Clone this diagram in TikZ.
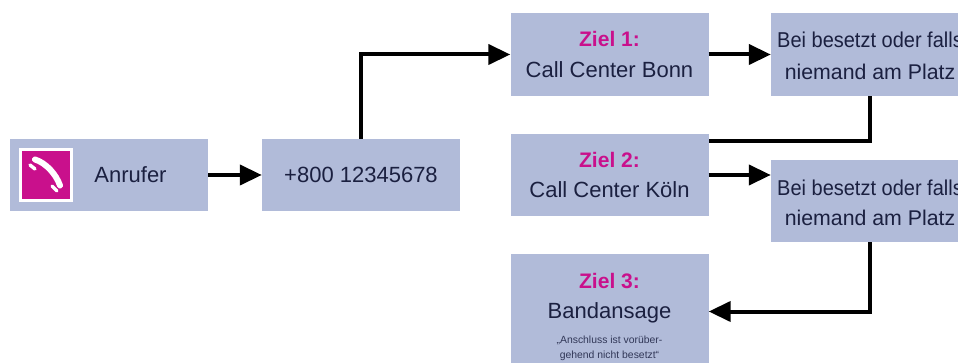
\documentclass[tikz,border=0pt]{standalone}
\usepackage{fontspec}
\setmainfont{Liberation Sans}
\newfontfamily\narrowfont[FakeStretch=0.93]{Liberation Sans}
\usetikzlibrary{arrows.meta,positioning}
\definecolor{boxblue}{HTML}{B1BBD9}
\definecolor{tmag}{HTML}{C9108C}
\definecolor{inkblue}{HTML}{1B2040}
\tikzset{
  flowbox/.style={fill=boxblue,inner sep=0pt,minimum width=198pt,align=center,text=inkblue,font=\fontsize{22}{31}\selectfont},
  flowtext/.style={text=inkblue,align=center,inner sep=0pt},
  conn/.style={draw=black,line width=4pt,-{Triangle[length=22pt,width=20pt]}},
  plainconn/.style={draw=black,line width=4pt},
  iconline/.style={white,line cap=round}
}
\newcommand{\zielhead}[1]{{\fontsize{21}{31}\selectfont\color{tmag}\bfseries #1}}
\newcommand{\beiline}{{\narrowfont\fontsize{21.5}{31}\selectfont Bei besetzt oder falls}}
\newcommand{\nieline}{{\fontsize{21.3}{31}\selectfont niemand am Platz}}
\begin{document}
\begin{tikzpicture}[x=1pt,y=-1pt]
\useasboundingbox (0,0) rectangle (958,363);
\clip (0,0) rectangle (958,363);
\fill[white] (0,0) rectangle (958,363);
\node[flowbox,minimum height=72pt] (caller) at (109,175) {};
\node[flowtext,font=\fontsize{22}{25}\selectfont] (callertext) at (130.5,175) {Anrufer};
\node[flowbox,minimum height=72pt] (number) at (361,175) {+800 12345678};
\node[flowbox,minimum height=83pt] (ziel1) at (609.5,54.5) {\zielhead{Ziel 1:}\\Call Center Bonn};
\node[flowbox,minimum height=83pt] (bei1) at (870,54.5) {};
\node[flowtext,font=\fontsize{21}{32}\selectfont] (bei1text) at (870,56) {\beiline\\\nieline};
\node[flowbox,minimum height=82pt] (ziel2) at (609.5,175) {\zielhead{Ziel 2:}\\Call Center Köln};
\node[flowbox,minimum height=82pt] (bei2) at (870,201) {};
\node[flowtext,font=\fontsize{21}{30}\selectfont] (bei2text) at (870,203) {\beiline\\\nieline};
\node[flowbox,minimum height=115pt] (ziel3) at (609.5,311.5) {};
\node[flowtext,font=\fontsize{22}{30}\selectfont] (ziel3text) at (609.5,298) {\zielhead{Ziel 3:}\\Bandansage};
\node[flowtext,text=inkblue!85!boxblue,font=\fontsize{10.4}{15}\selectfont] (ziel3note) at (609.5,348) {„Anschluss ist vorüber-\\gehend nicht besetzt“};
% icon
\node[fill=tmag,draw=white,line width=2.5pt,minimum size=51pt,inner sep=0pt] (icon) at (46,175) {};
\draw[iconline,line width=6pt] (35,159.5) .. controls (46,163) and (56,174) .. (60,185.5);
\draw[iconline,line width=3.5pt] (30,165) -- (35,169);
\draw[iconline,line width=3.5pt] (52,186) -- (57,191);
% connectors
\draw[conn] (caller.east) -- (number.west);
\draw[conn] (number.north) -- (number.north |- ziel1.west) -- (ziel1.west);
\draw[conn] (ziel1.east) -- (bei1.west);
\draw[plainconn] (bei1.south) -- (bei1.south |- 0,141) -- (ziel2.east |- 0,141);
\draw[conn] (ziel2.east) -- (bei2.west |- ziel2.east);
\draw[conn] (bei2.south) -- (bei2.south |- ziel3.east) -- (ziel3.east);
\end{tikzpicture}
\end{document}
